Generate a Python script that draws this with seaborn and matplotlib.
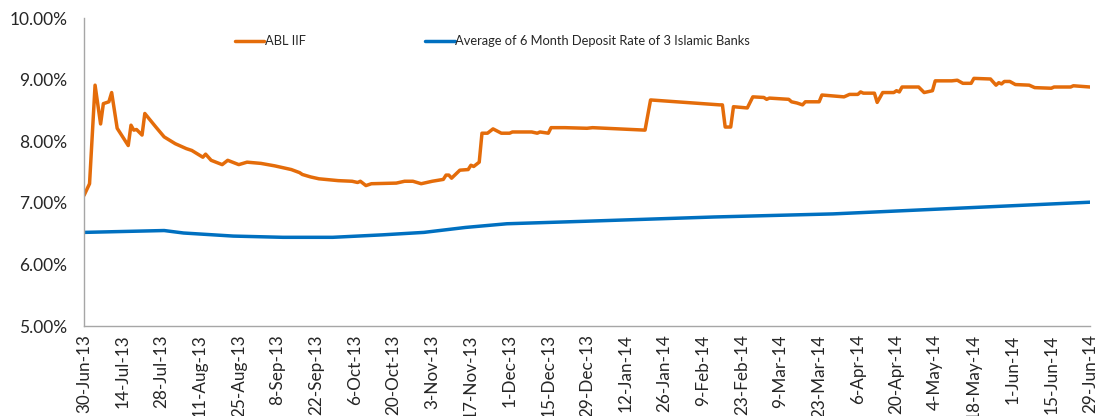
"""
plot.py

ABL IIF return vs. average 6 month deposit rate of 3 Islamic banks.
"""

import matplotlib
matplotlib.use("Agg")
import matplotlib.pyplot as plt
from matplotlib.ticker import FuncFormatter
import pandas as pd
import seaborn as sns

START = "2013-06-30"

# days since 30-Jun-13
abl_days = [
    0, 2, 4, 6, 7, 9, 10, 12, 14, 16, 17, 18, 19, 21, 22, 26, 29, 33, 37, 39,
    43, 44, 46, 50, 52, 56, 59, 64, 69, 75, 78, 79, 82, 85, 92, 97, 99, 100,
    102, 104, 113, 116, 119, 122, 126, 130, 131, 132, 133, 136, 139, 140, 141,
    143, 144, 146, 148, 151, 154, 155, 162, 164, 165, 168, 169, 174, 182, 184,
    203, 205, 230, 231, 232, 234, 235, 240, 242, 246, 247, 248, 255, 256, 258,
    260, 261, 266, 267, 275, 277, 280, 281, 282, 286, 287, 289, 293, 294, 295,
    296, 302, 304, 307, 308, 314, 316, 318, 321, 322, 328, 330, 331, 332, 333,
    335, 337, 342, 344, 350, 351, 357, 358, 364,
]
abl_rate = [
    7.12, 7.31, 8.91, 8.28, 8.61, 8.64, 8.79, 8.21, 8.07, 7.93, 8.26, 8.18,
    8.19, 8.10, 8.45, 8.23, 8.07, 7.96, 7.88, 7.85, 7.74, 7.79, 7.69, 7.62,
    7.69, 7.62, 7.66, 7.64, 7.60, 7.54, 7.49, 7.46, 7.42, 7.39, 7.36, 7.35,
    7.33, 7.35, 7.28, 7.31, 7.32, 7.35, 7.35, 7.31, 7.35, 7.38, 7.45, 7.45,
    7.40, 7.53, 7.54, 7.61, 7.59, 7.66, 8.13, 8.13, 8.20, 8.13, 8.13, 8.15,
    8.15, 8.13, 8.15, 8.13, 8.22, 8.22, 8.21, 8.22, 8.18, 8.67, 8.59, 8.59,
    8.23, 8.23, 8.56, 8.54, 8.72, 8.71, 8.68, 8.70, 8.68, 8.64, 8.62, 8.59,
    8.64, 8.64, 8.75, 8.72, 8.76, 8.76, 8.80, 8.78, 8.78, 8.63, 8.79, 8.79,
    8.82, 8.80, 8.88, 8.88, 8.79, 8.82, 8.98, 8.98, 8.99, 8.94, 8.94, 9.02,
    9.01, 8.91, 8.95, 8.93, 8.97, 8.97, 8.92, 8.91, 8.87, 8.86, 8.88, 8.88,
    8.90, 8.88,
]

bank_days = [0, 29, 36, 54, 72, 90, 108, 123, 138, 153, 181, 228, 271, 364]
bank_rate = [6.52, 6.55, 6.51, 6.46, 6.44, 6.44, 6.48, 6.52, 6.60, 6.66,
             6.70, 6.77, 6.82, 7.01]

labels = ["ABL IIF", "Average of 6 Month Deposit Rate of 3 Islamic Banks"]
colors = ["#E46C0A", "#0070C0"]


def to_frame(days, rates, name):
    return pd.DataFrame({
        "Date": pd.Timestamp(START) + pd.to_timedelta(days, unit="D"),
        "Rate": rates,
        "Series": name,
    })


df = pd.concat([
    to_frame(abl_days, abl_rate, labels[0]),
    to_frame(bank_days, bank_rate, labels[1]),
], ignore_index=True)

sns.set_style("white")
plt.rcParams["font.family"] = ["Lato", "DejaVu Sans"]

fig = plt.figure(figsize=(11.04, 4.16), dpi=100)
ax = fig.add_axes([0.0761, 0.2163, 0.9112, 0.7404])

sns.lineplot(data=df, x="Date", y="Rate", hue="Series", hue_order=labels,
             palette=colors, linewidth=2.5, ax=ax, estimator=None, sort=False)
for line in ax.get_lines():
    line.set_solid_joinstyle("round")
    line.set_solid_capstyle("round")

start = pd.Timestamp(START)
end = start + pd.Timedelta(days=364)
ax.set_xlim(start, end)
ax.set_ylim(5, 10)
ax.set_yticks([5, 6, 7, 8, 9, 10])
ax.yaxis.set_major_formatter(FuncFormatter(lambda v, _: f"{v:.2f}%"))

tick_dates = pd.date_range(start, end, freq="14D")
ax.set_xticks(tick_dates)
ax.set_xticklabels([d.strftime("%-d-%b-%y") for d in tick_dates],
                   rotation=90, fontsize=12.3, color="#262626")
ax.tick_params(axis="y", labelsize=12.5, labelcolor="#262626", pad=12)
ax.tick_params(axis="x", pad=6)
ax.tick_params(length=0)
ax.set_xlabel("")
ax.set_ylabel("")

for side in ["top", "right"]:
    ax.spines[side].set_visible(False)
for side in ["left", "bottom"]:
    ax.spines[side].set_color("#A6A6A6")
    ax.spines[side].set_linewidth(1.0)

ax.legend(loc="center", bbox_to_anchor=(0.406, 0.925), ncol=2,
          frameon=False, fontsize=9.3, handlelength=2.3, handletextpad=0.05,
          columnspacing=9.2, labelcolor="#262626")

fig.savefig("out.png", dpi=100)
